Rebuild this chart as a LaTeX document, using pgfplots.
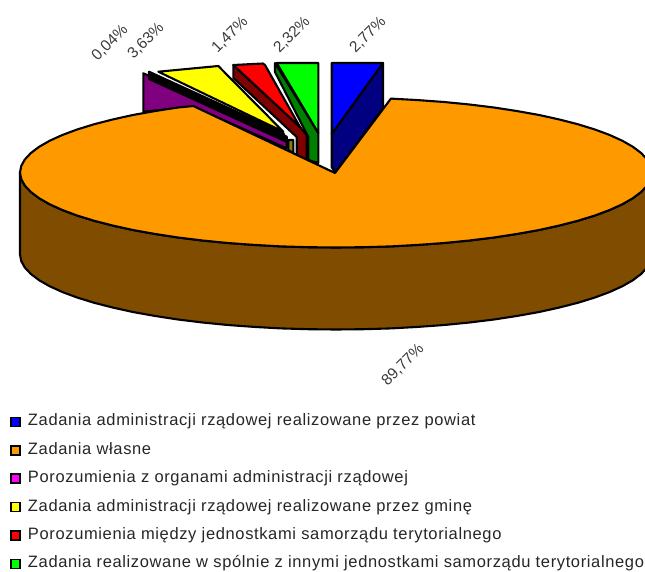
\documentclass[border=0pt]{standalone}
\usepackage{fontspec}
\setmainfont{Liberation Sans}
\newfontfamily\legfont[LetterSpace=3.85]{Liberation Sans}
\usepackage{pgfplots}
\pgfplotsset{compat=1.18}
\definecolor{pieOrange}{RGB}{255,153,0}
\definecolor{pieBrown}{RGB}{128,76,0}
\definecolor{pieNavy}{RGB}{0,0,128}
\definecolor{pieDGreen}{RGB}{0,128,0}
\definecolor{pieDRed}{RGB}{128,0,0}
\definecolor{piePurple}{RGB}{128,0,128}
\definecolor{pieOlive}{RGB}{128,128,0}
\definecolor{pieBlue}{RGB}{0,0,255}
\definecolor{pieGreen}{RGB}{0,255,0}
\definecolor{pieRed}{RGB}{255,0,0}
\definecolor{pieYellow}{RGB}{255,255,0}
\definecolor{pieMagenta}{RGB}{255,0,255}
\definecolor{labGray}{RGB}{60,60,60}
\pgfplotsset{
  slice/.style={draw=black, line width=2.1pt, line join=round, forget plot, fill=#1},
  box/.style={legend image code/.code={
    \draw[black, line width=1.6pt, fill=#1] (0pt,-4.5pt) rectangle (9pt,4.5pt);
    \path (17pt,0pt);}},
}
\begin{document}
\begin{tikzpicture}
\begin{axis}[
  scale only axis, width=645pt, height=571pt,
  xmin=0, xmax=645, ymin=0, ymax=571, y dir=reverse,
  axis lines=none,
  legend cell align=left,
  legend style={draw=none, fill=none, at={(0.0155,0.275)}, anchor=north west,
    inner sep=0pt, outer sep=0pt, row sep=12.4pt,
    font=\legfont\fontsize{16.5}{18}\selectfont\color{black!85},
    nodes={inner sep=0pt, outer sep=0pt, text height=12pt, text depth=4pt}},
]
% exploded slices, back to front
\addplot[slice=piePurple] coordinates {(143.3,73.3)(286.7,136.7)(286.7,148.3)(193.3,106.7)(143.3,111.7)} --cycle;
\addplot[slice=black] coordinates {(149,71.7)(283.3,133)(287,142)(149,79)} --cycle;
\addplot[slice=pieYellow] coordinates {(158.3,71.7)(218.3,66)(283.3,131.7)} --cycle;
\addplot[slice=pieOlive] coordinates {(288.3,140)(293.3,140)(293.3,153)(288.3,150)} --cycle;
\addplot[slice=pieDRed] coordinates {(233.3,65)(300,127)(306.7,135)(306.7,160)(296.7,155)(296.7,137)(233.3,78)} --cycle;
\addplot[slice=pieRed] coordinates {(233.3,65)(263,63.5)(265,65)(300,127)} --cycle;
\addplot[slice=pieDGreen] coordinates {(275,63)(318.3,133)(318.3,163)(308.3,160)(308.3,137)(275,72)} --cycle;
\addplot[slice=pieGreen] coordinates {(276.7,63)(318.3,63)(318.3,133)} --cycle;
\addplot[slice=pieNavy] coordinates {(331.7,134)(383,63)(383,108)(335,173)(331.7,167)} --cycle;
\addplot[slice=pieBlue] coordinates {(331.7,63)(383,63)(331.7,134)} --cycle;
% big slice: rim
\addplot[slice=pieBrown] coordinates {
  (20,172.5)(21.2,179)(24.8,185.5)(30.8,191.9)(39.1,198.2)(49.6,204.2)(62.3,210)(77.1,215.5)
  (93.9,220.7)(112.6,225.5)(132.9,230)(154.7,233.9)(178,237.5)(202.5,240.5)(227.9,243)
  (254.2,244.9)(281.1,246.4)(308.4,247.2)(336,247.5)(363.6,247.2)(390.9,246.4)(417.8,244.9)
  (444.1,243)(469.5,240.5)(494,237.5)(517.3,233.9)(539.1,230)(559.4,225.5)(578.1,220.7)
  (594.9,215.5)(609.7,210)(622.4,204.2)(632.9,198.2)(641.2,191.9)(647.2,185.5)(650.8,179)(652,172.5)
  (652,254.5)(650.8,261)(647.2,267.5)(641.2,273.9)(632.9,280.2)(622.4,286.2)(609.7,292)(594.9,297.5)
  (578.1,302.7)(559.4,307.5)(539.1,312)(517.3,315.9)(494,319.5)(469.5,322.5)(444.1,325)(417.8,326.9)
  (390.9,328.4)(363.6,329.2)(336,329.5)(308.4,329.2)(281.1,328.4)(254.2,326.9)(227.9,325)(202.5,322.5)
  (178,319.5)(154.7,315.9)(132.9,312)(112.6,307.5)(93.9,302.7)(77.1,297.5)(62.3,292)(49.6,286.2)
  (39.1,280.2)(30.8,273.9)(24.8,267.5)(21.2,261)(20,254.5)
} --cycle;
% big slice: top
\addplot[slice=pieOrange] coordinates {
  (335,173)(390.9,98.6)(417.8,100.1)(444.1,102)(469.5,104.5)(494,107.5)(517.3,111.1)(539.1,115)
  (559.4,119.5)(578.1,124.3)(594.9,129.5)(609.7,135)(622.4,140.8)(632.9,146.8)(641.2,153.1)
  (647.2,159.5)(650.8,166)(652,172.5)(650.8,179)(647.2,185.5)(641.2,191.9)(632.9,198.2)(622.4,204.2)
  (609.7,210)(594.9,215.5)(578.1,220.7)(559.4,225.5)(539.1,230)(517.3,233.9)(494,237.5)(469.5,240.5)
  (444.1,243)(417.8,244.9)(390.9,246.4)(363.6,247.2)(336,247.5)(308.4,247.2)(281.1,246.4)(254.2,244.9)
  (227.9,243)(202.5,240.5)(178,237.5)(154.7,233.9)(132.9,230)(112.6,225.5)(93.9,220.7)(77.1,215.5)
  (62.3,210)(49.6,204.2)(39.1,198.2)(30.8,191.9)(24.8,185.5)(21.2,179)(20,172.5)(21.2,166)(24.8,159.5)
  (30.8,153.1)(39.1,146.8)(49.6,140.8)(62.3,135)(77.1,129.5)(93.9,124.3)(112.6,119.5)(132.9,115)
  (154.7,111.1)(178,107.5)(193.3,106)
} --cycle;
% legend
\addlegendimage{box=pieBlue}
\addlegendentry{Zadania administracji rządowej realizowane przez powiat}
\addlegendimage{box=pieOrange}
\addlegendentry{Zadania własne}
\addlegendimage{box=pieMagenta}
\addlegendentry{Porozumienia z organami administracji rządowej}
\addlegendimage{box=pieYellow}
\addlegendentry{Zadania administracji rządowej realizowane przez gminę}
\addlegendimage{box=pieRed}
\addlegendentry{Porozumienia między jednostkami samorządu terytorialnego}
\addlegendimage{box=pieGreen}
\addlegendentry{Zadania realizowane w spólnie z innymi jednostkami samorządu terytorialnego}
% percentage labels
\begin{scope}[every node/.style={rotate=45, text=labGray, font=\fontsize{15.5}{17}\selectfont, inner sep=0pt}]
\node at (axis cs:110,43) {0,04\%};
\node at (axis cs:146,41) {3,63\%};
\node at (axis cs:230,35) {1,47\%};
\node at (axis cs:292,35) {2,32\%};
\node at (axis cs:368,35) {2,77\%};
\node at (axis cs:403,365) {89,77\%};
\end{scope}
\end{axis}
\pgfresetboundingbox
\path[use as bounding box] (0,0) rectangle (645pt,571pt);
\end{tikzpicture}
\end{document}
